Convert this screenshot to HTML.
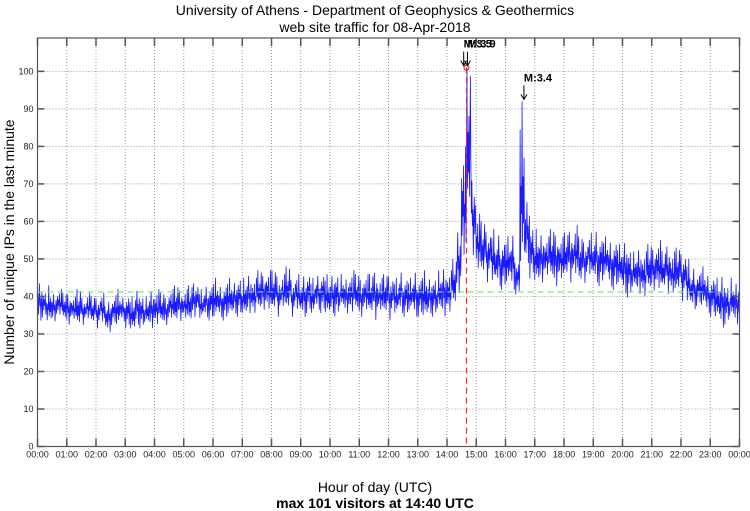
<!DOCTYPE html>
<html><head><meta charset="utf-8"><style>
html,body{margin:0;padding:0;background:#fff;}
svg{display:block;font-family:"Liberation Sans",sans-serif;}
</style></head><body>
<svg id="chart" width="750" height="511">
<text x="375" y="15" text-anchor="middle" font-size="14">University of Athens - Department of Geophysics &amp; Geothermics</text>
<text x="375" y="32" text-anchor="middle" font-size="14">web site traffic for 08-Apr-2018</text>
<text transform="translate(14,242) rotate(-90)" text-anchor="middle" font-size="14">Number of unique IPs in the last minute</text>
<text x="375" y="492" text-anchor="middle" font-size="14">Hour of day (UTC)</text>
<text x="375" y="508" text-anchor="middle" font-size="14" font-weight="bold">max 101 visitors at 14:40 UTC</text>
<g id="grid"></g><g id="series"></g><g id="overlay"></g><g id="axes"></g>
</svg>
<script>
const hours = ["00:00","01:00","02:00","03:00","04:00","05:00","06:00","07:00","08:00","09:00","10:00","11:00","12:00","13:00","14:00","15:00","16:00","17:00","18:00","19:00","20:00","21:00","22:00","23:00","00:00"];
const yTicks = [0,10,20,30,40,50,60,70,80,90,100];
// 10-minute slot low / high values
const lowVals = [33,34,32,33,34,33, 32,33,31,32,33,32, 31,32,30,32,31,33, 31,30,32,31,32,31, 31,32,32,33,32,33, 33,32,34,33,34,33,
 33,34,33,34,35,34, 34,35,34,35,36,35, 35,34,36,35,34,35, 34,35,34,36,35,34, 35,34,36,35,34,35, 34,35,34,33,35,34,
 33,34,35,34,35,34, 34,33,35,34,35,34, 34,36,40,46,58,50, 45,44,43,42,42,41, 42,41,40,42,48,44, 42,43,44,43,42,43,
 44,43,44,42,43,44, 43,42,44,42,41,42, 40,39,41,40,38,40, 41,40,41,40,39,40, 38,37,36,37,36,35, 34,33,31,32,33,32];
const highVals = [44,42,43,41,42,41, 41,40,42,40,41,40, 40,41,39,40,42,40, 41,40,42,41,40,42, 42,41,40,42,43,42, 42,43,44,42,43,44,
 45,43,44,45,44,46, 45,46,45,47,46,47, 47,46,46,48,45,46, 46,47,45,46,47,46, 46,47,46,45,47,46, 45,46,46,47,45,46,
 46,45,47,46,45,47, 46,47,45,46,47,48, 47,50,58,80,101,72, 62,60,58,58,57,56, 56,57,50,92,66,60, 58,57,56,58,57,56,
 57,58,59,56,55,57, 58,57,56,55,56,54, 55,54,52,53,52,54, 53,55,52,54,52,53, 52,50,48,47,48,46, 46,45,46,44,45,44];
const meanLevel = 41.2;
const peakHour = 14 + 40/60, peakValue = 101;
const quakes = [{h:14.57,label:"M:3.5",v:101},{h:14.70,label:"M:3.9",v:101},{h:16.63,label:"M:3.4",v:92}];

const L=37.5,R=739.5,T=38,B=446.5,YMAX=108.9;
const X=h=>L+(R-L)*h/24, Y=v=>B-(B-T)*v/YMAX;
const NS="http://www.w3.org/2000/svg";
function mk(tag,attrs,parent){const e=document.createElementNS(NS,tag);for(const k in attrs)e.setAttribute(k,attrs[k]);parent.appendChild(e);return e;}
const grid=document.getElementById('grid'),axes=document.getElementById('axes'),ser=document.getElementById('series'),ov=document.getElementById('overlay');

hours.forEach((lab,i)=>{
  const x=X(i);
  if(i>0&&i<24){const g=mk('line',{x1:x,x2:x,y1:T,y2:B,stroke:'#999','stroke-dasharray':'1,2','stroke-width':1},grid);
  
  }
  const t1=mk('line',{x1:x,x2:x,y1:B,y2:B-8,stroke:'#555','stroke-width':1.5},axes);
  
  
  const t2=mk('line',{x1:x,x2:x,y1:T,y2:T+8,stroke:'#555','stroke-width':1.5},axes);
  
  
  const tx=mk('text',{x:x,y:B+11,'text-anchor':'middle','font-size':9,fill:'#222'},axes);
  tx.textContent=lab;
  
  
});
yTicks.forEach(v=>{
  const y=Y(v);
  if(v>0){const g=mk('line',{x1:L,x2:R,y1:y,y2:y,stroke:'#999','stroke-dasharray':'1,2','stroke-width':1},grid);
  
  }
  const t1=mk('line',{x1:L,x2:L+7,y1:y,y2:y,stroke:'#555','stroke-width':1.5},axes);
  
  
  const t2=mk('line',{x1:R-7,x2:R,y1:y,y2:y,stroke:'#555','stroke-width':1.5},axes);
  
  
  const tx=mk('text',{x:L-4,y:y+3,'text-anchor':'end','font-size':9,fill:'#222'},axes);
  tx.textContent=v;
  
  
});
const frame=mk('rect',{x:L,y:T,width:R-L,height:B-T,fill:'none',stroke:'#555','stroke-width':1.2},axes);



// series: per-minute variation between low and high of each slot
const shape=[0.35,0.7,0.2,0.55,0.95,0.4,0.6,0.05,0.5,0.75,0.3,0.65,0.45,0.85,0.15,0.55,0.4,1,0.25,0.6];
let pts=[];
for(let s=0;s<lowVals.length;s++){
  for(let j=0;j<10;j++){
    const f=shape[(j+s*7)%shape.length];
    const v=lowVals[s]+(highVals[s]-lowVals[s])*f;
    pts.push(X((s*10+j)/60).toFixed(2)+','+Y(v).toFixed(2));
  }
}
const line=mk('polyline',{points:pts.join(' '),fill:'none',stroke:'#1a1aff','stroke-width':0.8},ser);



const mean=mk('line',{x1:L,x2:R,y1:Y(meanLevel),y2:Y(meanLevel),stroke:'#66ee66','stroke-width':1.2,'stroke-dasharray':'6,4'},ov);


const pk=mk('line',{x1:X(peakHour),x2:X(peakHour),y1:Y(peakValue),y2:B,stroke:'#ff2222','stroke-width':1.2,'stroke-dasharray':'6,4'},ov);


const pc=mk('circle',{cx:X(peakHour),cy:Y(peakValue),r:2.5,fill:'none',stroke:'#ff0000','stroke-width':1},ov);



quakes.forEach(q=>{
  const x=X(q.h);
  const yTip=Y(q.v)-2, yTop=yTip-14;
  const a=mk('path',{d:`M${x},${yTop} L${x},${yTip} M${x-3},${yTip-5} L${x},${yTip} L${x+3},${yTip-5}`,stroke:'#000','stroke-width':1,fill:'none'},ov);
  
  
  const t=mk('text',{x:x,y:yTop-4,'font-size':11,'font-weight':'bold'},ov);
  t.textContent=q.label;
  
  
});
</script>
</body></html>
